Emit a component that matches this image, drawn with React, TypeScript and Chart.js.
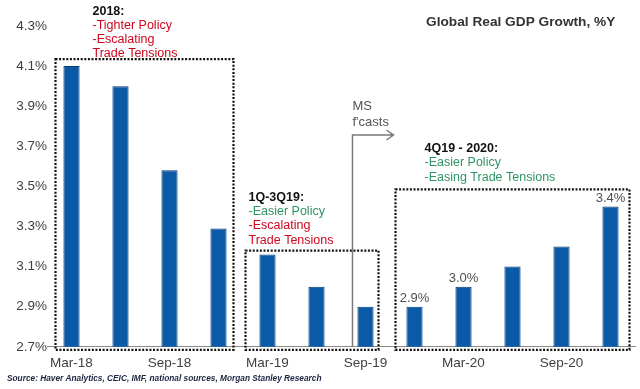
import React, { useEffect, useRef } from 'react';
import { Chart, registerables } from 'chart.js';

Chart.register(...registerables);

const categories = ['Mar-18', 'Jun-18', 'Sep-18', 'Dec-18', 'Mar-19', 'Jun-19', 'Sep-19', 'Dec-19', 'Mar-20', 'Jun-20', 'Sep-20', 'Dec-20'];
const gdpGrowth = [4.1, 4.0, 3.58, 3.29, 3.16, 3.0, 2.9, 2.9, 3.0, 3.1, 3.2, 3.4];
const yTicks = [2.7, 2.9, 3.1, 3.3, 3.5, 3.7, 3.9, 4.1, 4.3];
const labelledBars = [7, 8, 11];
const titleText = 'Global Real GDP Growth, %Y';
const sourceText = 'Source: Haver Analytics, CEIC, IMF, national sources, Morgan Stanley Research';
const forecastText = ['MS', "f'casts"];

const RED = '#d0061f';
const GREEN = '#2f9464';

const period2018 = { heading: '2018:', lines: [['-Tighter Policy', RED], ['-Escalating', RED], ['Trade Tensions', RED]] };
const period2019 = { heading: '1Q-3Q19:', lines: [['-Easier Policy', GREEN], ['-Escalating', RED], ['Trade Tensions', RED]] };
const period2020 = { heading: '4Q19 - 2020:', lines: [['-Easier Policy', GREEN], ['-Easing Trade Tensions', GREEN]] };

const FONT = '"Liberation Sans", Arial, sans-serif';

const annotations = {
  id: 'annotations',
  afterDatasetsDraw(chart: any) {
    const { ctx, scales } = chart;
    const x = scales.x;
    const y = scales.y;
    const X = (i: number) => x.getPixelForValue(i);
    const Y = (v: number) => y.getPixelForValue(v);
    const base = Y(2.7);
    ctx.save();

    // dotted boxes
    const box = (l: number, t: number, r: number, b: number) => {
      ctx.save();
      ctx.setLineDash([2, 1.6]);
      ctx.lineWidth = 2.2;
      ctx.strokeStyle = '#111';
      ctx.strokeRect(l, t, r - l, b - t);
      ctx.restore();
    };
    const b1 = { l: X(0) - 16, r: X(3) + 15, t: Y(4.135) };
    const b2 = { l: X(4) - 22, r: X(6) + 13, t: Y(3.18) };
    const b3 = { l: X(7) - 19, r: X(11) + 19, t: Y(3.485) };
    box(b1.l, b1.t, b1.r, base + 3);
    box(b2.l, b2.t, b2.r, base + 3);
    box(b3.l, b3.t, b3.r, base + 3);

    // period texts
    const block = (p: any, left: number, top: number, gap: number) => {
      ctx.textAlign = 'left';
      ctx.textBaseline = 'middle';
      ctx.font = `bold 12.5px ${FONT}`;
      ctx.fillStyle = '#111';
      ctx.fillText(p.heading, left, top);
      ctx.font = `12.5px ${FONT}`;
      p.lines.forEach((ln: any, k: number) => {
        ctx.fillStyle = ln[1];
        ctx.fillText(ln[0], left, top + gap * (k + 1));
      });
    };
    block(period2018, X(0) + 21, b1.t - 48, 14);
    block(period2019, b2.l + 3, b2.t - 53, 14.2);
    block(period2020, X(7) + 10, b3.t - 41, 14.5);

    // forecast arrow
    const fx = X(6) - 13;
    const fy = 135;
    ctx.strokeStyle = '#7a7a7a';
    ctx.lineWidth = 1.5;
    ctx.beginPath();
    ctx.moveTo(fx, base);
    ctx.lineTo(fx, fy);
    ctx.lineTo(fx + 41, fy);
    ctx.moveTo(fx + 34, fy - 5);
    ctx.lineTo(fx + 41, fy);
    ctx.lineTo(fx + 34, fy + 5);
    ctx.stroke();
    ctx.fillStyle = '#555';
    ctx.font = `13px ${FONT}`;
    ctx.textAlign = 'left';
    ctx.textBaseline = 'middle';
    ctx.fillText(forecastText[0], fx, 106);
    ctx.fillText(forecastText[1], fx, 122);

    // data labels
    ctx.font = `13px ${FONT}`;
    ctx.fillStyle = '#505050';
    ctx.textAlign = 'center';
    ctx.textBaseline = 'bottom';
    labelledBars.forEach((i) => {
      ctx.fillText(gdpGrowth[i].toFixed(1) + '%', X(i), Y(gdpGrowth[i]) - 2);
    });

    // title
    ctx.font = `bold 13.7px ${FONT}`;
    ctx.fillStyle = '#333';
    ctx.textAlign = 'left';
    ctx.textBaseline = 'middle';
    ctx.fillText(titleText, 426, 22);

    // source
    ctx.font = `italic bold 8.3px ${FONT}`;
    ctx.fillStyle = '#1c2540';
    ctx.textAlign = 'left';
    ctx.fillText(sourceText, 7, 379);

    ctx.restore();
  },
};

export default function App() {
  const ref = useRef<HTMLCanvasElement>(null);
  useEffect(() => {
    document.body.style.margin = '0';
    const chart = new Chart(ref.current as HTMLCanvasElement, {
      type: 'bar',
      data: {
        labels: categories,
        datasets: [
          {
            data: gdpGrowth,
            backgroundColor: '#0a5aa8',
            borderColor: '#073a70',
            borderWidth: 1,
            categoryPercentage: 1,
            barPercentage: 0.33,
          },
        ],
      },
      options: {
        animation: false,
        responsive: false,
        layout: { padding: { top: 26, right: 5, bottom: 10, left: 0 } },
        plugins: { legend: { display: false }, tooltip: { enabled: false }, title: { display: false } },
        scales: {
          x: {
            grid: { display: false, drawTicks: false },
            border: { display: true, color: '#8a8a8a', width: 1 },
            ticks: {
              autoSkip: false,
              maxRotation: 0,
              padding: 8,
              color: '#404040',
              font: { family: FONT, size: 13.5 },
              callback: (_v: any, i: number) => (i % 2 === 0 ? categories[i] : ''),
            },
          },
          y: {
            min: 2.7,
            max: 4.3,
            grid: { display: false, drawTicks: false },
            border: { display: false },
            afterBuildTicks: (s: any) => {
              s.ticks = yTicks.map((v) => ({ value: v }));
            },
            afterFit: (s: any) => {
              s.width = 47;
            },
            ticks: {
              padding: 0,
              color: '#404040',
              font: { family: FONT, size: 13.5 },
              callback: (v: any) => Number(v).toFixed(1) + '%',
            },
          },
        },
      },
      plugins: [annotations],
    });
    return () => chart.destroy();
  }, []);
  return (
    <div style={{ position: 'fixed', left: 0, top: 0, width: 640, height: 389, background: '#fff' }}>
      <canvas ref={ref} width={640} height={389} />
    </div>
  );
}
